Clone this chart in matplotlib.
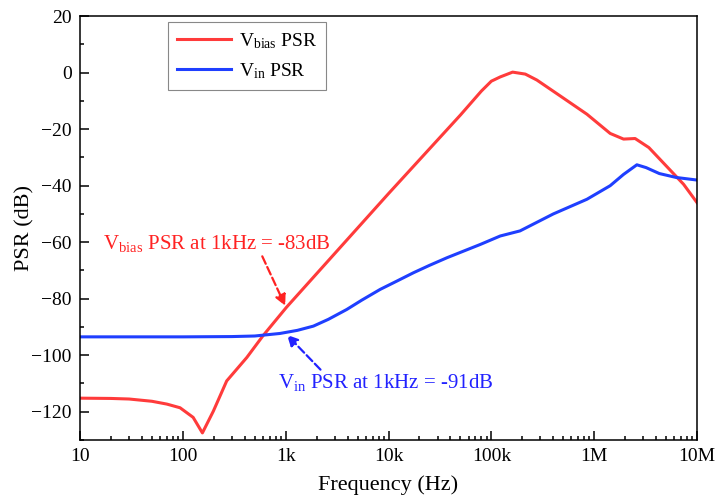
import matplotlib
matplotlib.use('Agg')
import matplotlib.pyplot as plt
from matplotlib.ticker import FixedLocator, LogLocator, MultipleLocator, NullFormatter

plt.rcParams['font.family'] = 'Liberation Serif'
plt.rcParams['mathtext.fontset'] = 'custom'
plt.rcParams['mathtext.rm'] = 'Liberation Serif'
plt.rcParams['mathtext.it'] = 'Liberation Serif:italic'

# Vbias PSR curve (Hz, dB)
f_bias = [10, 20, 30, 50, 70, 94, 126, 155, 198, 267, 419, 605, 1020, 10000, 50000,
          80000, 100000, 122000, 161000, 214000, 277000, 466000, 850000, 1430000,
          1930000, 2500000, 3400000, 7400000, 10000000]
psr_bias = [-115.2, -115.3, -115.5, -116.3, -117.3, -118.6, -122, -127.5, -119.8, -109.1,
            -100.8, -93, -83, -42.8, -15, -6.5, -3, -1.5, 0.2, -0.5, -2.6, -8.2, -14.7,
            -21.5, -23.5, -23.3, -26.5, -39.5, -46]

# Vin PSR curve (Hz, dB)
f_in = [10, 100, 300, 500, 880, 1300, 1860, 2600, 3930, 5500, 8300, 12000, 17500, 25000,
        37000, 55000, 78000, 122000, 190000, 400000, 850000, 1430000, 1930000, 2600000,
        3200000, 4300000, 6300000, 10000000]
psr_in = [-93.5, -93.5, -93.4, -93.2, -92.3, -91.2, -89.7, -87.3, -83.8, -80.5, -76.7,
          -73.8, -70.8, -68.2, -65.5, -63, -60.8, -57.8, -56, -50, -44.8, -40, -36, -32.6,
          -33.6, -35.7, -37.1, -38]

xticks = [10, 100, 1e3, 1e4, 1e5, 1e6, 1e7]
xtick_labels = ['10', '100', '1k', '10k', '100k', '1M', '10M']

red = '#ff3b3b'
blue = '#1f3fff'

fig = plt.figure(figsize=(7.18, 5.01), dpi=100)
ax = fig.add_axes([0.1114, 0.1218, 0.8594, 0.8459])

ax.plot(f_bias, psr_bias, color=red, lw=2.2, label=r'V$_{\rm bias}$ PSR')
ax.plot(f_in, psr_in, color=blue, lw=2.2, label=r'V$_{\rm in}$ PSR')

ax.set_xscale('log')
ax.set_xlim(10, 1e7)
ax.set_ylim(-130, 20)
ax.xaxis.set_major_locator(FixedLocator(xticks))
ax.set_xticklabels(xtick_labels)
ax.xaxis.set_minor_locator(LogLocator(base=10, subs=range(2, 10), numticks=20))
ax.xaxis.set_minor_formatter(NullFormatter())
ax.yaxis.set_major_locator(MultipleLocator(20))
ax.yaxis.set_minor_locator(MultipleLocator(10))

ax.tick_params(which='both', direction='in', top=False, right=False, labelsize=14, width=1.1)
ax.tick_params(which='major', length=6.5, pad=6)
ax.tick_params(which='minor', length=3)
for s in ax.spines.values():
    s.set_linewidth(1.1)

ax.set_xlabel('Frequency (Hz)', fontsize=16)
ax.set_ylabel('PSR (dB)', fontsize=16)
ax.xaxis.set_label_coords(0.5, -0.083)
ax.yaxis.set_label_coords(-0.073, 0.5)

leg = ax.legend(loc='upper left', bbox_to_anchor=(0.143, 0.986), borderaxespad=0,
                fontsize=14, fancybox=False, edgecolor='#888888', framealpha=1,
                handlelength=2.8, handletextpad=0.4, borderpad=0.45, labelspacing=0.55)
leg.get_frame().set_linewidth(0.8)

ax.annotate(r'V$_{\rm bias}$ PSR at 1kHz = -83dB', xy=(990, -82.5), xytext=(16.7, -60.3),
            color='#ff2222', fontsize=15, va='center', ha='left',
            arrowprops=dict(arrowstyle='-|>', color='#ff2222', lw=1.6, ls='--',
                            mutation_scale=16, shrinkA=0, shrinkB=0,
                            relpos=(0.69, 0.1)))
ax.annotate(r'V$_{\rm in}$ PSR at 1kHz = -91dB', xy=(1030, -92.8), xytext=(843, -109.8),
            color='#2222ff', fontsize=15, va='center', ha='left',
            arrowprops=dict(arrowstyle='-|>', color='#2222ff', lw=1.6, ls='--',
                            mutation_scale=16, shrinkA=0, shrinkB=0,
                            relpos=(0.2, 1.1)))

fig.savefig('out.png', dpi=100)
